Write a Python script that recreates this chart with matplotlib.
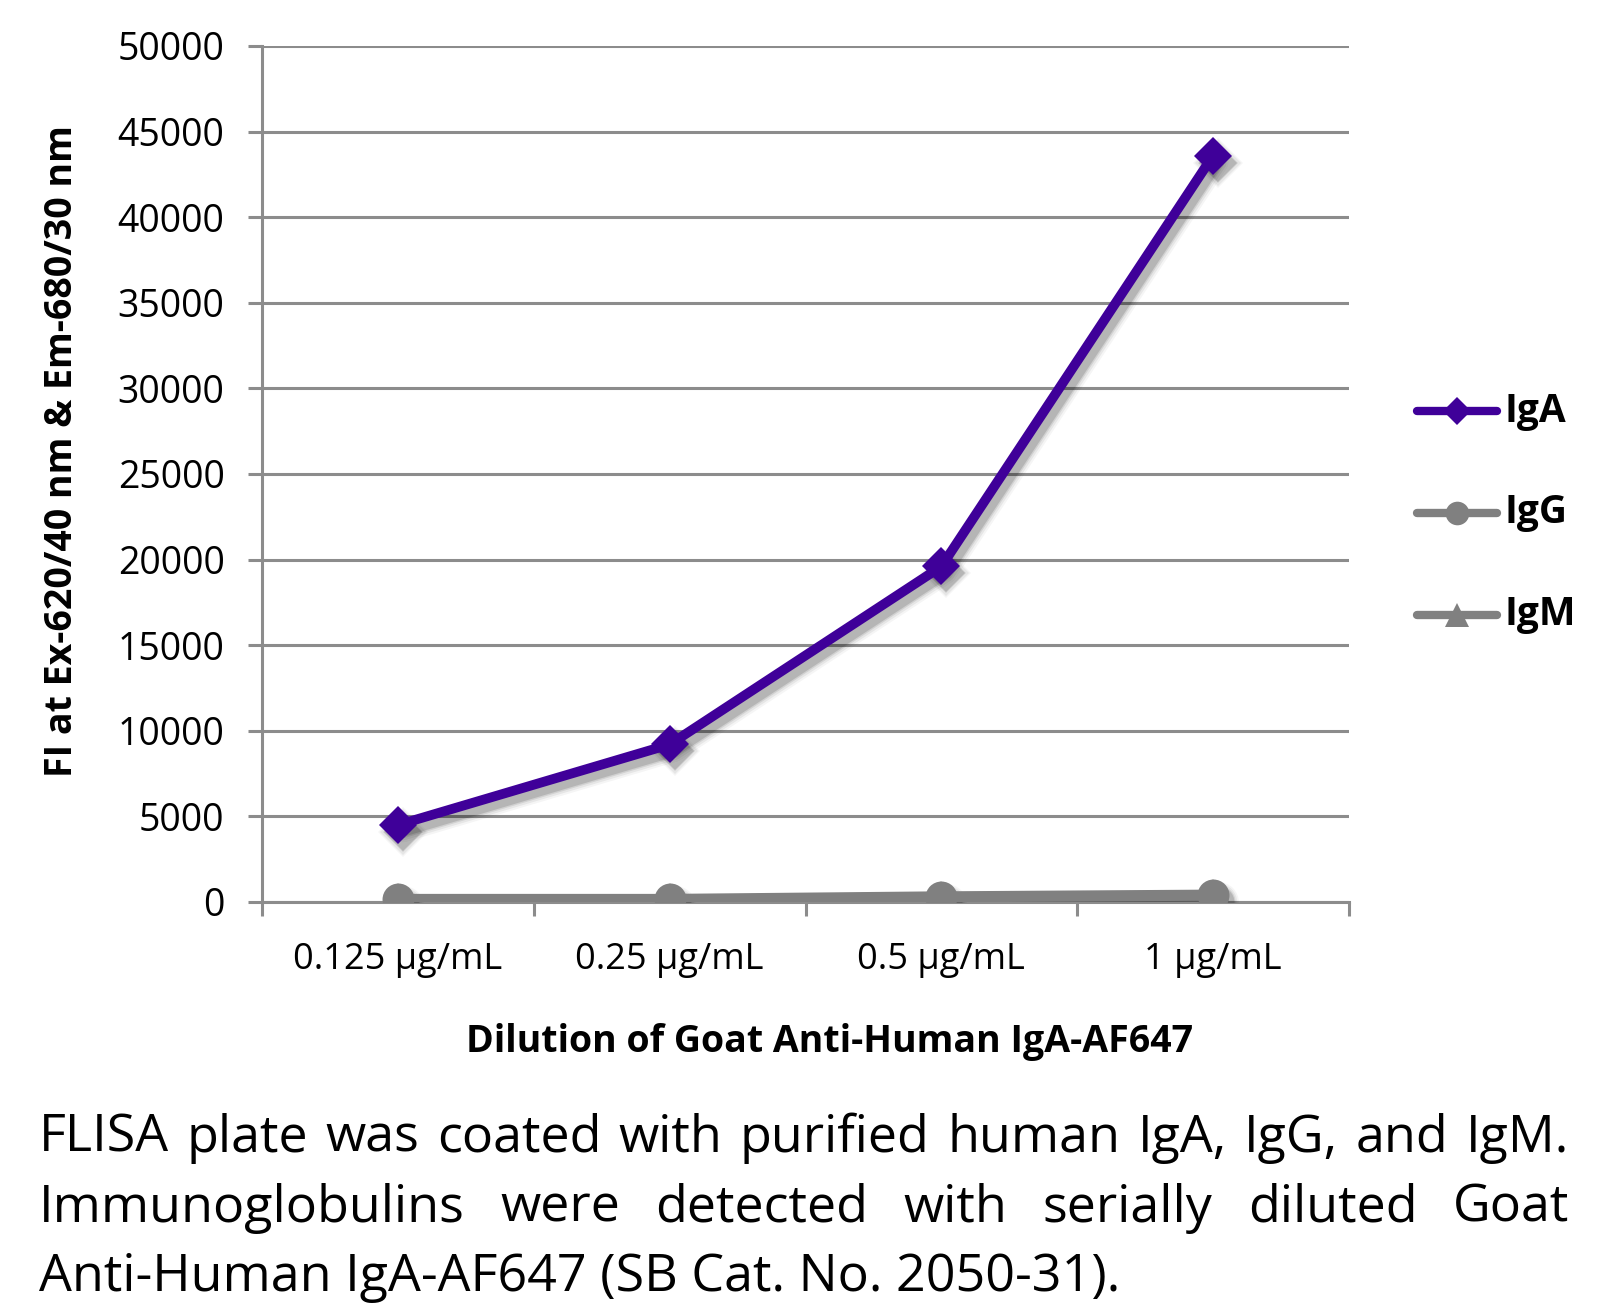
import matplotlib
matplotlib.use("Agg")
import matplotlib.pyplot as plt
import matplotlib.transforms as mtransforms

FONT = "Open Sans"
plt.rcParams['font.family'] = [FONT, 'DejaVu Sans']

categories = ["0.125 µg/mL", "0.25 µg/mL", "0.5 µg/mL", "1 µg/mL"]
iga = [4500, 9200, 19600, 43600]
igg = [150, 150, 300, 400]
igm = [100, 100, 250, 350]
yticks = [0, 5000, 10000, 15000, 20000, 25000, 30000, 35000, 40000, 45000, 50000]
caption_lines = [
    "FLISA plate was coated with purified human IgA, IgG, and IgM.",
    "Immunoglobulins were detected with serially diluted Goat",
    "Anti-Human IgA-AF647 (SB Cat. No. 2050-31).",
]

W, H = 1617, 1308
fig = plt.figure(figsize=(W / 100, H / 100), dpi=100)
ax = fig.add_axes([262 / W, 1 - 902 / H, (1349 - 262) / W, (902 - 46) / H])

purple = "#3F0099"
gray = "#808080"
grid_gray = "#8C8C8C"

x = list(range(len(categories)))
series = [
    (igm, gray, "^", 24, 8, 3),
    (igg, gray, "o", 23, 8, 4),
    (iga, purple, "D", 19, 7, 5),
]
# blurred drop shadows
for ys, c, m, ms, lw, z in series:
    for extra, a in [(8, 0.04), (5, 0.06), (2, 0.09), (0, 0.13)]:
        tr = mtransforms.offset_copy(ax.transData, fig=fig, x=5, y=-7, units="dots")
        ax.plot(x, ys, color="black", alpha=a, lw=lw + extra, marker=m, ms=ms + extra * 0.8,
                mew=0, transform=tr, zorder=z - 0.5, solid_capstyle="round",
                solid_joinstyle="round")
for ys, c, m, ms, lw, z in series:
    ax.plot(x, ys, color=c, lw=lw, marker=m, ms=ms, mew=0, zorder=z,
            solid_capstyle="round", solid_joinstyle="round")

ax.set_xlim(-0.5, len(categories) - 0.5)
ax.set_ylim(0, 50000)
ax.set_yticks(yticks)
ax.set_yticklabels([str(v) for v in yticks], fontsize=27)
ax.yaxis.grid(True, color=grid_gray, lw=2.2)
ax.set_axisbelow(True)
ax.set_xticks(x)
ax.set_xticklabels(categories, fontsize=26)
ax.tick_params(axis="x", length=0, pad=29)
ax.set_xticks([i + 0.5 for i in range(-1, len(categories))], minor=True)
ax.tick_params(axis="x", which="minor", length=10, width=2.2, color=grid_gray)
ax.tick_params(axis="y", length=10, width=2.2, color=grid_gray, pad=17)
for s in ["top", "right"]:
    ax.spines[s].set_visible(False)
for s in ["left", "bottom"]:
    ax.spines[s].set_color(grid_gray)
    ax.spines[s].set_linewidth(2.2)

fig.text(62 / W, 1 - 451 / H, "FI at Ex-620/40 nm & Em-680/30 nm", rotation=90,
         fontsize=27, fontweight="bold", ha="center", va="center")
fig.text(830 / W, 1 - 1042 / H, "Dilution of Goat Anti-Human IgA-AF647",
         fontsize=27, fontweight="bold", ha="center", va="center")

# legend (manual)
leg = [("IgA", purple, "D", 14), ("IgG", gray, "o", 17), ("IgM", gray, "^", 17)]
for i, (lab, c, m, ms) in enumerate(leg):
    yy = 1 - (411 + 102 * i) / H
    fig.add_artist(plt.Line2D([1417 / W, 1497 / W], [yy, yy], color=c, lw=6,
                              solid_capstyle="round", transform=fig.transFigure))
    fig.add_artist(plt.Line2D([1457 / W], [yy], color=c, marker=m, ms=ms, lw=0, mew=0,
                              transform=fig.transFigure))
    fig.text(1504 / W, yy, lab, fontsize=28, fontweight="bold", va="center", ha="left")

# caption, justified; size fitted so last line width matches
left, right = 39, 1569
baselines = [1152, 1222, 1291]
renderer = fig.canvas.get_renderer()
probe = fig.text(0, 0, caption_lines[-1], fontsize=30)
pw = probe.get_window_extent(renderer).width
probe.remove()
cfs = 30 * 1080 / pw
for li, (line, bl) in enumerate(zip(caption_lines, baselines)):
    yy = 1 - bl / H
    if li == len(caption_lines) - 1:
        fig.text(left / W, yy, line, fontsize=cfs, va="baseline", ha="left")
        continue
    words = line.split()
    texts = [fig.text(0, yy, w, fontsize=cfs, va="baseline", ha="left") for w in words]
    widths = [t.get_window_extent(renderer).width for t in texts]
    gap = (right - left - sum(widths)) / (len(words) - 1)
    xpos = left
    for t, w in zip(texts, widths):
        t.set_x(xpos / W)
        xpos += w + gap

fig.savefig("out.png", dpi=100)
